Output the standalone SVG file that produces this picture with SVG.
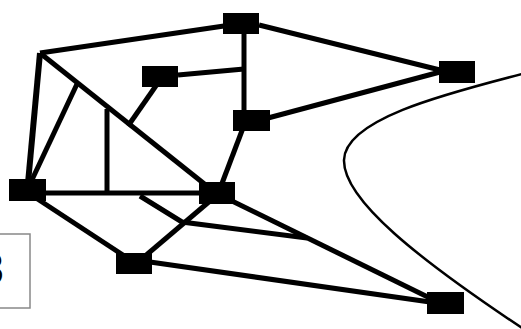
<svg xmlns="http://www.w3.org/2000/svg" width="521" height="329" viewBox="0 0 521 329">
<style>
.e{stroke:#000;stroke-width:5;fill:none;stroke-linecap:butt}
.n{fill:#000}
.c{stroke:#000;stroke-width:2.5;fill:none}
.lbl{font-family:"Liberation Sans",Arial,sans-serif;font-size:44px;fill:#000}
</style>
<rect width="521" height="329" fill="#fff"/>
<g id="connectors">
<line class="e" x1="40" y1="53" x2="224" y2="26"/>
<line class="e" x1="40" y1="53" x2="28" y2="183" style="stroke-width:6"/>
<line class="e" x1="40" y1="53" x2="212" y2="190"/>
<line class="e" x1="77" y1="84" x2="30" y2="184"/>
<line class="e" x1="107" y1="109" x2="107" y2="193"/>
<line class="e" x1="160" y1="80" x2="128" y2="126"/>
<line class="e" x1="178" y1="75" x2="244" y2="69"/>
<line class="e" x1="244" y1="24" x2="244" y2="112"/>
<line class="e" x1="259" y1="25" x2="440" y2="70"/>
<line class="e" x1="268" y1="118" x2="440" y2="72"/>
<line class="e" x1="243" y1="128" x2="221" y2="186"/>
<line class="e" x1="40" y1="193" x2="210" y2="193"/>
<line class="e" x1="36" y1="198" x2="126" y2="257"/>
<line class="e" x1="144" y1="257" x2="217" y2="195"/>
<line class="e" x1="230" y1="200" x2="440" y2="303"/>
<polyline class="e" points="140,196 182,222 307,238"/>
<line class="e" x1="150" y1="262" x2="430" y2="302"/>
</g>
<g id="n1"><rect class="n" x="223" y="13" width="36" height="21"/></g>
<g id="n2"><rect class="n" x="142" y="66" width="36" height="21"/></g>
<g id="n3"><rect class="n" x="233" y="110" width="37" height="21"/></g>
<g id="n4"><rect class="n" x="439" y="61" width="36" height="22"/></g>
<g id="n5"><rect class="n" x="9" y="179" width="37" height="22"/></g>
<g id="n6"><rect class="n" x="199" y="182" width="36" height="22"/></g>
<g id="n7"><rect class="n" x="116" y="253" width="36" height="21"/></g>
<g id="n8"><rect class="n" x="427" y="292" width="37" height="22"/></g>
<path class="c" d="M522,74 C440,95 345,120 344,160 C343,200 420,260 522,328"/>
<g id="label-box">
<rect x="-10" y="234" width="40" height="74" fill="#fff" stroke="#888" stroke-width="1.5"/>
<text class="lbl" x="4" y="284" text-anchor="end">3</text>
</g>
</svg>
